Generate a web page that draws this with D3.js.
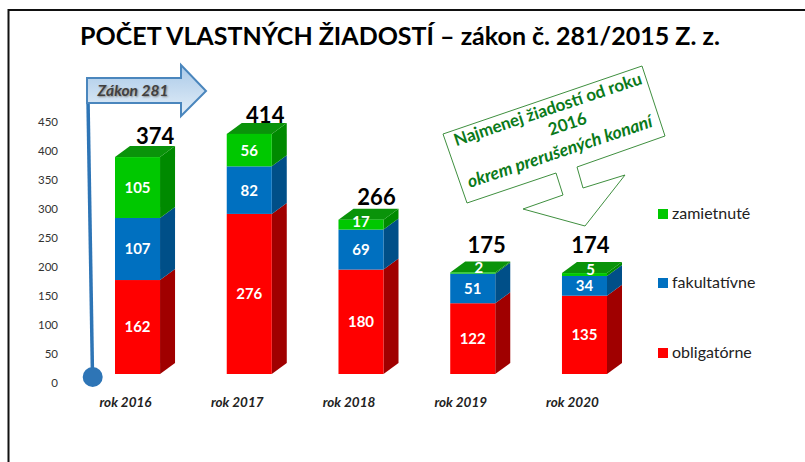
<!DOCTYPE html>
<html><head><meta charset="utf-8">
<script src="https://cdn.jsdelivr.net/npm/d3@7"></script>
<style>html,body{margin:0;padding:0;background:#fff}svg{display:block}text{font-family:Lato,"Open Sans",sans-serif}</style>
</head><body><svg id="c" width="805" height="462"></svg>
<script>
const categories=["rok 2016","rok 2017","rok 2018","rok 2019","rok 2020"];
const obligatorne=[162,276,180,122,135];
const fakultativne=[107,82,69,51,34];
const zamietnute=[105,56,17,2,5];
const totals=[374,414,266,175,174];
const seriesNames=["obligatórne","fakultatívne","zamietnuté"];
const front=["#ff0000","#0070c0","#00c800"];
const side=["#a00000","#004f88","#008a00"];
const topFace="#0a930a";
const ticks=[0,50,100,150,200,250,300,350,400,450];
const titleText="POČET VLASTNÝCH ŽIADOSTÍ – zákon č. 281/2015 Z. z.";

const svg=d3.select("#c");
const x=d3.scaleBand().domain(categories).range([115,607]).paddingInner(0.597).paddingOuter(0);
const y=d3.scaleLinear().domain([0,450]).range([374,113]);
const axisY=d3.scaleLinear().domain([0,450]).range([383,122]);
const dx=15,dy=11;

svg.append("path").attr("d","M805,10H8.5V462").attr("stroke","#111").attr("stroke-width",2).attr("fill","none");

svg.append("text").attr("x",400).attr("y",45).attr("text-anchor","middle")
  .attr("font-size",25).attr("font-weight",700).attr("fill","#000").text(titleText);

const ax=svg.append("g").attr("transform","translate(58,0)")
  .call(d3.axisLeft(axisY).tickValues(ticks).tickSize(0).tickFormat(d3.format("d")));
ax.select(".domain").remove();
ax.selectAll("text").attr("font-size",11.5).attr("fill","#333").style("font-family","Lato").attr("x",0);

const stack=d3.stack().keys([0,1,2]).value((d,k)=>d[k])(categories.map((c,i)=>[obligatorne[i],fakultativne[i],zamietnute[i]]));
stack.forEach((s,k)=>{
  const g=svg.append("g");
  s.forEach((d,i)=>{
    const c=categories[i],x0=x(c),w=x.bandwidth(),y0=y(d[0]),y1=y(d[1]);
    g.append("path").attr("fill",side[k]).attr("d",`M${x0+w},${y0}L${x0+w+dx},${y0-dy}V${y1-dy}L${x0+w},${y1}Z`);
    if(k===2) g.append("path").attr("fill",topFace).attr("d",`M${x0},${y1}L${x0+dx},${y1-dy}H${x0+w+dx}L${x0+w},${y1}Z`);
    g.append("rect").attr("x",x0).attr("y",y1).attr("width",w).attr("height",y0-y1).attr("fill",front[k]);
  });
});
stack.forEach((s,k)=>{
  s.forEach((d,i)=>{
    const c=categories[i],v=d[1]-d[0];
    const small=v<10;
    svg.append("text").attr("x",x(c)+x.bandwidth()/2+(small?6:0)).attr("y",(y(d[0])+y(d[1]))/2+(small?-5:(v<20?-3:0))).attr("dy","0.36em")
      .attr("text-anchor","middle").attr("fill","#fff").attr("font-size",15).attr("font-weight",700).text(v);
  });
});
const totalDx=[17.5,16,15.5,14,6],totalDy=[2,0,4,8.5,9];
totals.forEach((t,i)=>{
  const c=categories[i];
  svg.append("text").attr("x",x(c)+x.bandwidth()/2+totalDx[i]).attr("y",y(obligatorne[i]+fakultativne[i]+zamietnute[i])-dy-totalDy[i])
    .attr("text-anchor","middle").attr("fill","#000").attr("font-size",22).attr("font-weight",700).text(t);
  svg.append("text").attr("x",x(c)+x.bandwidth()/2-12).attr("y",406.5).attr("text-anchor","middle").attr("font-size",13.5).attr("font-weight",700).attr("font-style","italic").attr("fill","#222").text(c);
});

const legY=[353,283,214];
seriesNames.forEach((n,k)=>{
  svg.append("rect").attr("x",658).attr("y",legY[k]-5).attr("width",10).attr("height",10).attr("fill",front[k]);
  svg.append("text").attr("x",672).attr("y",legY[k]-1).attr("dy","0.36em").attr("font-size",16).attr("fill","#222").text(n);
});

svg.append("path").attr("fill","none").attr("stroke","#2e75b6").attr("stroke-width",3.5).attr("d","M88,100L92.5,376");
svg.append("circle").attr("cx",92.7).attr("cy",377).attr("r",10).attr("fill","#2e75b6");
const arrowGrad=svg.append("defs").append("linearGradient").attr("id","ag").attr("x1",0).attr("x2",0).attr("y1",0).attr("y2",1);
arrowGrad.append("stop").attr("offset",0).attr("stop-color","#a9c9e8");
arrowGrad.append("stop").attr("offset",1).attr("stop-color","#e3eef8");
svg.append("path").attr("fill","url(#ag)").attr("stroke","#4a86bd").attr("stroke-width",2)
  .attr("d","M87,78H181V65L206,91L181,116V103H87Z");
svg.append("text").attr("x",133).attr("y",96).attr("text-anchor","middle").attr("font-size",15.5).attr("font-weight",700).attr("font-style","italic").attr("fill","#404040").style("text-shadow","1px 1px 2px #888").text("Zákon 281");

svg.append("path").attr("fill","#fff").attr("stroke","#3f8f3f").attr("stroke-width",1)
  .attr("d","M443,134L642,66L665,136L577,167L583,188L625,175L585,226L523,209L563,195L556,173L467,203Z");
const lab=svg.append("g").attr("transform","translate(555,131) rotate(-18.5)").attr("text-anchor","middle");
lab.append("text").attr("y",-17).attr("font-size",17).attr("font-weight",700).attr("fill","#0a7a1a").text("Najmenej žiadostí od roku");
lab.append("text").attr("x",14).attr("y",3).attr("font-size",17).attr("font-weight",700).attr("fill","#0a7a1a").text("2016");
lab.append("text").attr("x",-2).attr("y",27).attr("font-size",17.5).attr("font-weight",700).attr("font-style","italic").attr("fill","#0a7a1a").text("okrem prerušených konaní");
</script></body></html>
